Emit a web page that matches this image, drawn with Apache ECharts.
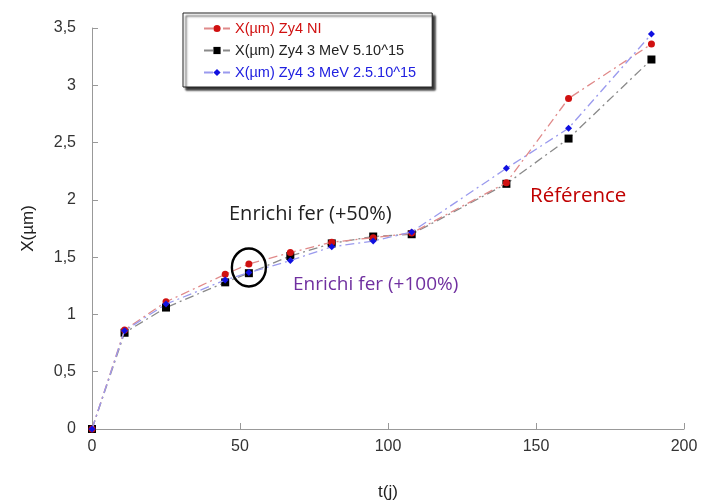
<!DOCTYPE html>
<html><head><meta charset="utf-8">
<script src="https://cdn.jsdelivr.net/npm/echarts@6/dist/echarts.min.js"></script>
<style>html,body{margin:0;padding:0;background:#fff}#c{width:705px;height:500px}</style>
</head><body><div id="c"></div>
<script>
var days = [0, 11, 25, 45, 53, 67, 81, 95, 108, 140, 161, 189];
var zyNI = [0, 0.865, 1.11, 1.35, 1.44, 1.54, 1.63, 1.67, 1.71, 2.15, 2.885, 3.36];
var zy5e15 = [0, 0.84, 1.06, 1.28, 1.36, 1.51, 1.62, 1.68, 1.70, 2.14, 2.535, 3.225];
var zy25e15 = [0, 0.857, 1.09, 1.30, 1.365, 1.47, 1.59, 1.64, 1.72, 2.275, 2.625, 3.447];
var names = ['X(µm) Zy4 NI', 'X(µm) Zy4 3 MeV 5.10^15', 'X(µm) Zy4 3 MeV 2.5.10^15'];
var circled = [53, 1.41];

function pairs(v){ return days.map(function(d,i){ return [d, v[i]]; }); }
var chart = echarts.init(document.getElementById('c'));
var font = 'Liberation Sans, Arial, sans-serif';
var annFont = '"Open Sans", sans-serif';
chart.setOption({
  animation: false,
  grid: {left: 92, right: 21, top: 28, bottom: 71, containLabel: false, outerBoundsMode: 'none'},
  legend: {
    orient: 'vertical', left: 183, top: 13, padding: [8, 16, 7, 20], itemGap: 7,
    itemWidth: 26, itemHeight: 9,
    backgroundColor: '#fff', borderColor: '#222', borderWidth: 1,
    shadowColor: 'rgba(0,0,0,0.8)', shadowOffsetX: 3, shadowOffsetY: 3, shadowBlur: 2,
    textStyle: {fontFamily: font, fontSize: 14.5},
    data: [
      {name: names[0], textStyle: {color: '#d01010'}},
      {name: names[1], textStyle: {color: '#222'}},
      {name: names[2], textStyle: {color: '#2020e0'}}
    ]
  },
  xAxis: {
    type: 'value', min: 0, max: 200, interval: 50,
    name: 't(j)', nameLocation: 'middle', nameGap: 55,
    nameTextStyle: {fontFamily: font, fontSize: 17, color: '#222'},
    axisLine: {lineStyle: {color: '#999'}},
    axisTick: {inside: true, length: 6, lineStyle: {color: '#999'}},
    axisLabel: {fontFamily: font, fontSize: 16, color: '#333', margin: 10},
    splitLine: {show: false}
  },
  yAxis: {
    type: 'value', min: 0, max: 3.5, interval: 0.5,
    name: 'X(µm)', nameLocation: 'middle', nameGap: 55, nameRotate: 90,
    nameTextStyle: {fontFamily: font, fontSize: 17, color: '#222'},
    axisLine: {show: true, lineStyle: {color: '#999'}},
    axisTick: {show: true, inside: true, length: 6, lineStyle: {color: '#999'}},
    axisLabel: {fontFamily: font, fontSize: 16, color: '#333', margin: 16,
      formatter: function(v){ return String(v).replace('.', ','); }},
    splitLine: {show: false}
  },
  series: [
    {name: names[0], type: 'line', data: pairs(zyNI), symbol: 'circle', symbolSize: 7,
     itemStyle: {color: '#d01010'},
     lineStyle: {color: '#e08a8a', width: 1.3, type: [9, 4, 2, 4]}, z: 3,
     markPoint: {silent: true, data: [{coord: circled, symbol: 'circle', symbolSize: [34, 38],
       itemStyle: {color: 'rgba(0,0,0,0)', borderColor: '#000', borderWidth: 2.5}, label: {show: false}}]}},
    {name: names[1], type: 'line', data: pairs(zy5e15), symbol: 'rect', symbolSize: 8,
     itemStyle: {color: '#000'},
     lineStyle: {color: '#8a8a8a', width: 1.3, type: [9, 4, 2, 4]}, z: 2},
    {name: names[2], type: 'line', data: pairs(zy25e15), symbol: 'diamond', symbolSize: 7,
     itemStyle: {color: '#1010e0'},
     lineStyle: {color: '#9a9aee', width: 1.3, type: [9, 4, 2, 4]}, z: 4}
  ],
  graphic: [
    {type: 'text', x: 229, y: 214, style: {text: 'Enrichi fer (+50%)', fill: '#222', font: '20px ' + annFont, verticalAlign: 'middle'}},
    {type: 'text', x: 293, y: 285, style: {text: 'Enrichi fer (+100%)', fill: '#7030a0', font: '19px ' + annFont, verticalAlign: 'middle'}},
    {type: 'text', x: 530, y: 196, style: {text: 'Référence', fill: '#c00000', font: '20.5px ' + annFont, verticalAlign: 'middle'}}
  ]
});
</script></body></html>
